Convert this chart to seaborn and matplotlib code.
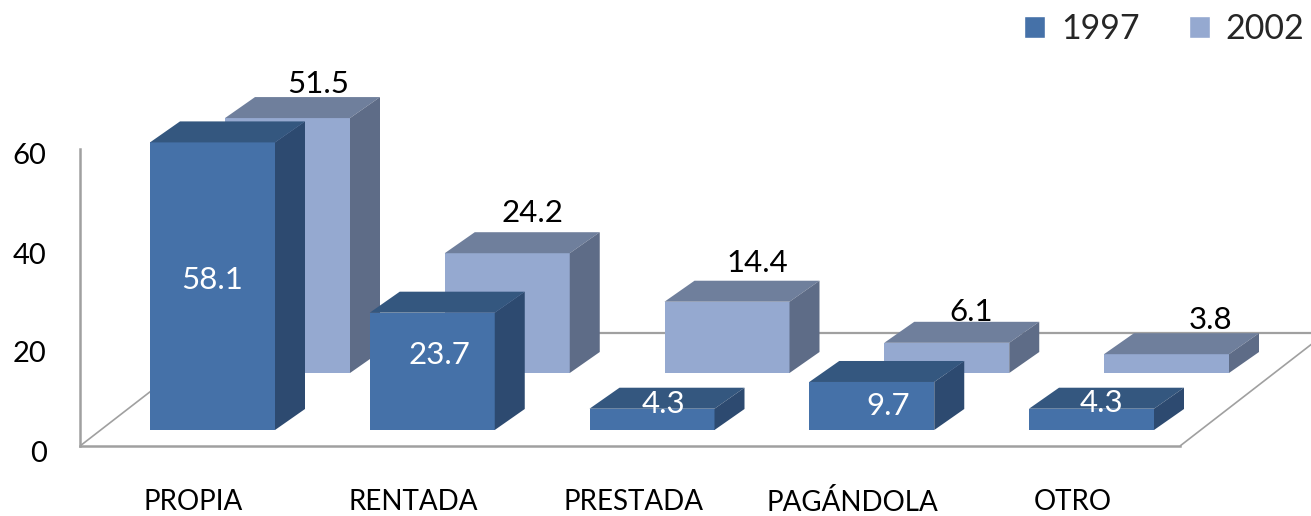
import matplotlib
matplotlib.use('Agg')
import matplotlib.pyplot as plt
from matplotlib.patches import Patch, Polygon
from matplotlib.transforms import ScaledTranslation
import seaborn as sns

categorias = ['PROPIA', 'RENTADA', 'PRESTADA', 'PAGÁNDOLA', 'OTRO']
v1997 = [58.1, 23.7, 4.3, 9.7, 4.3]
v2002 = [51.5, 24.2, 14.4, 6.1, 3.8]
y_ticks = [0, 20, 40, 60]

# pixel layout of the picture
W, H = 1311, 516
FLOOR_Y, LEFT = 446, 80
PX_X = 219.75  # px per category
PX_Y = 4.95  # px per value unit
BAR_W = 125

# offset of the value labels from the top centre of each bar, px
off_1997 = [(0, -138), (7, -42), (11, 5), (16, -24), (10, 6)]
off_2002 = [(31, 34), (25, 40), (30, 39), (24, 31), (44, 34)]

sns.set_theme(style='white')
plt.rcParams['font.family'] = ['Lato', 'DejaVu Sans']

fig = plt.figure(figsize=(W / 100, H / 100), dpi=100)
ax = fig.add_axes([LEFT / W, (H - FLOOR_Y) / H, (W - LEFT) / W, FLOOR_Y / H])
ax.patch.set_alpha(0)


def extrude(bars, colors, dx_shift, dy_shift, z):
    # move the flat seaborn bars back into the floor and give them depth
    face, top, side = colors
    dx, dy = 30 / PX_X, 21 / PX_Y
    for p in bars:
        p.set_x(p.get_x() + dx_shift / PX_X)
        p.set_y(p.get_y() + dy_shift / PX_Y)
        p.set_zorder(z)
        p.set_linewidth(0)
        x0, y0, w, h = p.get_x(), p.get_y(), p.get_width(), p.get_height()
        x1, y1 = x0 + w, y0 + h
        ax.add_patch(Polygon([(x0, y1), (x1, y1), (x1 + dx, y1 + dy), (x0 + dx, y1 + dy)],
                             facecolor=top, edgecolor='none', zorder=z))
        ax.add_patch(Polygon([(x1, y0), (x1, y1), (x1 + dx, y1 + dy), (x1 + dx, y0 + dy)],
                             facecolor=side, edgecolor='none', zorder=z))


def value_labels(bars, values, offsets, color):
    for p, v, off in zip(bars, values, offsets):
        ax.annotate('{:.1f}'.format(v), (p.get_x() + p.get_width() / 2, p.get_y() + p.get_height()),
                    xytext=(off[0] * 0.72, off[1] * 0.72), textcoords='offset points',
                    ha='center', va='center', fontsize=22.5, color=color, zorder=10)


C1997 = ('#4571a8', '#34577f', '#2d4a70')
C2002 = ('#95a9d0', '#6f7f9c', '#5e6c87')

sns.barplot(x=categorias, y=v2002, color=C2002[0], saturation=1, width=BAR_W / PX_X, ax=ax)
bars_2002 = list(ax.containers[-1])
sns.barplot(x=categorias, y=v1997, color=C1997[0], saturation=1, width=BAR_W / PX_X, ax=ax)
bars_1997 = list(ax.containers[-1])

extrude(bars_2002, C2002, 75, FLOOR_Y - 373, 3)
extrude(bars_1997, C1997, 0, FLOOR_Y - 430, 4)
value_labels(bars_2002, v2002, off_2002, 'black')
value_labels(bars_1997, v1997, off_1997, 'white')

ax.set_xlim((LEFT - 212.5) / PX_X, (W - 212.5) / PX_X)
ax.set_ylim(0, FLOOR_Y / PX_Y)


def px(x, y):
    return (x - 212.5) / PX_X, (FLOOR_Y - y) / PX_Y


# floor of the 3d box
for a, b, lw in [((80, 446), (226, 333), 1.2), ((226, 333), (1311, 333), 1.6), ((1180, 446), (1326, 333), 1.2)]:
    xa, ya = px(*a)
    xb, yb = px(*b)
    ax.plot([xa, xb], [ya, yb], color='#a0a0a0', lw=lw, zorder=1, solid_capstyle='butt')

sns.despine(ax=ax, top=True, right=True)
ax.spines['left'].set_bounds(0, 60)
ax.spines['bottom'].set_bounds(ax.get_xlim()[0], px(1180, 446)[0])
for s in ['left', 'bottom']:
    ax.spines[s].set_color('#a0a0a0')
    ax.spines[s].set_linewidth(1.8)

ax.set_yticks(y_ticks)
ax.tick_params(axis='y', length=0, pad=24, labelsize=21, colors='black')
ax.tick_params(axis='x', length=0, pad=31, labelsize=20, colors='black')
shift_y = ScaledTranslation(0, -5 / 100, fig.dpi_scale_trans)
shift_x = ScaledTranslation(-19 / 100, 0, fig.dpi_scale_trans)
for lab in ax.get_yticklabels():
    lab.set_transform(lab.get_transform() + shift_y)
for lab in ax.get_xticklabels():
    lab.set_transform(lab.get_transform() + shift_x)

handles = [Patch(facecolor=C1997[0], label='1997'), Patch(facecolor=C2002[0], label='2002')]
fig.legend(handles=handles, ncol=2, loc='upper right', bbox_to_anchor=(1.0, 1 - 6 / H), frameon=False,
           fontsize=24.5, handlelength=0.63, handleheight=0.62, handletextpad=0.45,
           columnspacing=1.45, borderaxespad=0, borderpad=0.2)

fig.savefig('out.png', dpi=100)
